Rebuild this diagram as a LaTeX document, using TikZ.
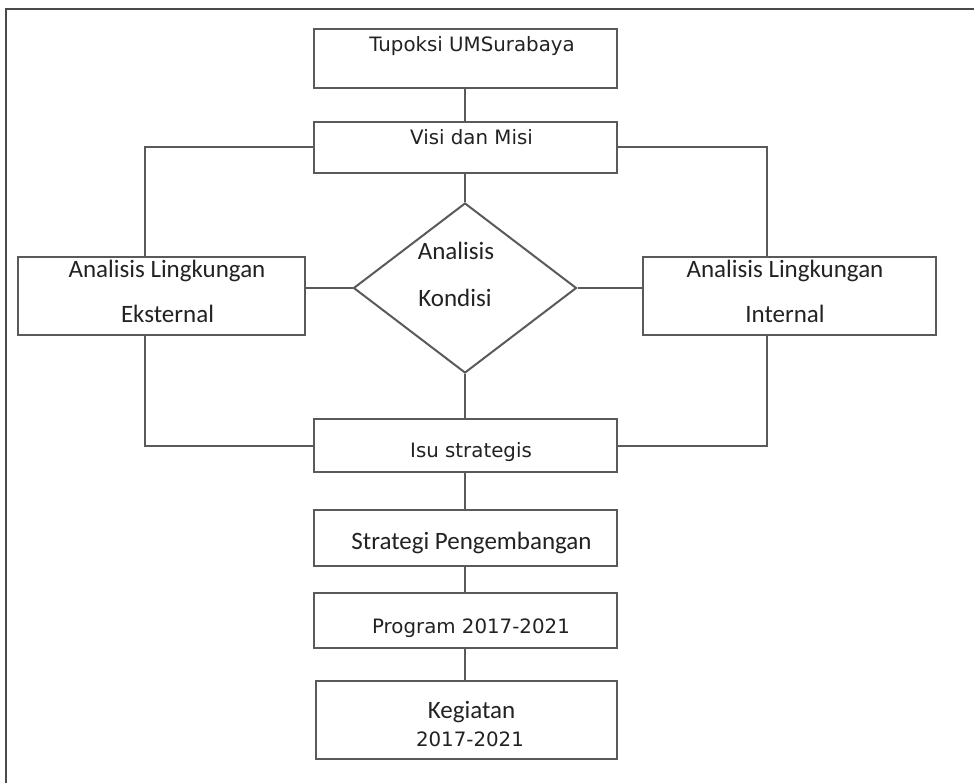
\documentclass[tikz,border=0pt]{standalone}
\usepackage{fontspec}
\setmainfont{DejaVu Sans}
\newfontfamily\carlfont{Carlito}
\usetikzlibrary{shapes.geometric}
\definecolor{linec}{HTML}{5A5A5A}
\definecolor{framec}{HTML}{4A4A4A}
\definecolor{txtc}{HTML}{222222}
\tikzset{
  box/.style={draw=linec, line width=2pt, rectangle, inner sep=0pt, minimum width=303pt},
  conn/.style={draw=linec, line width=2pt},
  vtext/.style={anchor=base, inner sep=0pt, text=txtc, font=\fontsize{19.8}{24}\selectfont},
  ctext/.style={anchor=base, inner sep=0pt, text=txtc, font=\carlfont\fontsize{25}{30}\selectfont}
}
\begin{document}
\begin{tikzpicture}[x=1pt, y=-1pt]
\useasboundingbox (0,0) rectangle (974,783);
% outer frame
\draw[framec, line width=2.2pt] (6,790) -- (6,9) -- (980,9);

% boxes
\node[box, minimum height=59pt] (tup) at (465.5,58.5) {};
\node[box, minimum height=51pt] (visi) at (465.5,147.5) {};
\node[box, minimum width=287pt, minimum height=78pt] (ext) at (161.5,296) {};
\node[box, minimum width=293pt, minimum height=78pt] (int) at (789.5,296) {};
\node[diamond, draw=linec, line width=2pt, inner sep=0pt, minimum width=223pt, minimum height=170pt] (dia) at (465,288) {};
\node[box, minimum height=53pt] (isu) at (465.5,445.5) {};
\node[box, minimum height=56pt] (strat) at (465.5,538) {};
\node[box, minimum height=55pt] (prog) at (465.5,620.5) {};
\node[box, minimum width=301pt, minimum height=78pt] (keg) at (466.5,720) {};

% helper coordinates for the connectors
\coordinate (le) at (145,0);
\coordinate (re) at (767,0);
\coordinate (mx) at (465,0);

% connectors
\draw[conn] (tup.south -| mx) -- (visi.north -| mx);
\draw[conn] (visi.south -| mx) -- (dia.north);
\draw[conn] (visi.west) -| (ext.north -| le);
\draw[conn] (visi.east) -| (int.north -| re);
\draw[conn] (ext.south -| le) |- (isu.west);
\draw[conn] (int.south -| re) |- (isu.east);
\draw[conn] (ext.east |- dia.west) -- (dia.west);
\draw[conn] (dia.east) -- (int.west |- dia.east);
\draw[conn] (dia.south) -- (isu.north -| mx);
\draw[conn] (isu.south -| mx) -- (strat.north -| mx);
\draw[conn] (strat.south -| mx) -- (prog.north -| mx);
\draw[conn] (prog.south -| mx) -- (keg.north -| mx);

% texts
\node[vtext] (ttup) at (472,52) {Tupoksi UMSurabaya};
\node[vtext] (tvisi) at (471.5,145) {Visi dan Misi};
\node[ctext] (text1) at (167,278) {Analisis Lingkungan};
\node[ctext] (text2) at (167.5,323) {Eksternal};
\node[ctext] (tint1) at (785,278) {Analisis Lingkungan};
\node[ctext] (tint2) at (785,323) {Internal};
\node[ctext] (tdia1) at (456,260) {Analisis};
\node[ctext] (tdia2) at (455,307) {Kondisi};
\node[vtext] (tisu) at (471,457) {Isu strategis};
\node[ctext] (tstrat) at (471.5,549) {Strategi Pengembangan};
\node[vtext] (tprog) at (471,633) {Program 2017-2021};
\node[ctext] (tkeg1) at (471.5,718) {Kegiatan};
\node[vtext] (tkeg2) at (470,746) {2017-2021};
\end{tikzpicture}
\end{document}
